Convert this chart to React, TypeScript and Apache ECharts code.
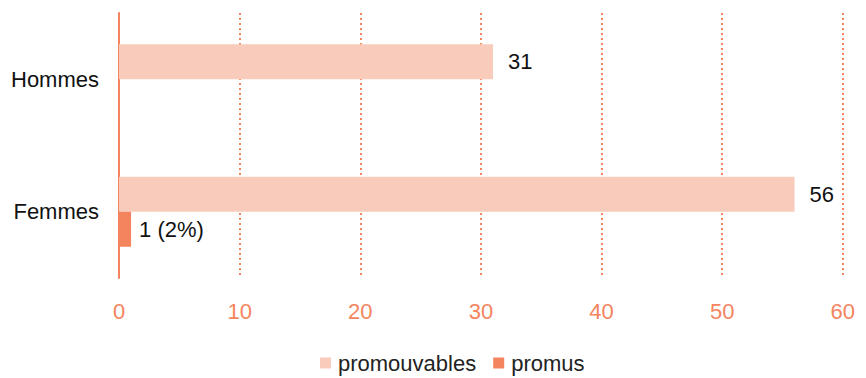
import React, { useEffect, useRef } from "react";
import * as echarts from "echarts";

const categories = ["Hommes", "Femmes"];
const promouvables = [31, 56];
const promus = [0, 1];
const promusLabels = ["", "1 (2%)"];
const xTicks = { min: 0, max: 60, interval: 10 };

export default function App() {
  const ref = useRef<HTMLDivElement>(null);
  useEffect(() => {
    if (!ref.current) return;
    const chart = echarts.init(ref.current, undefined, { renderer: "svg" });
    const font = "Liberation Sans, Arial, sans-serif";
    chart.setOption({
      animation: false,
      textStyle: { fontFamily: font },
      grid: { left: 110, right: 8, top: 5, bottom: 100, containLabel: false },
      legend: {
        top: 339,
        left: 307,
        itemWidth: 11,
        itemHeight: 11,
        itemGap: 17,
        icon: "rect",
        textStyle: { fontSize: 22, color: "#222", fontFamily: font, padding: [0, 0, 0, 2] },
        data: ["promouvables", "promus"],
      },
      xAxis: {
        type: "value",
        min: xTicks.min,
        max: xTicks.max,
        interval: xTicks.interval,
        axisLine: { show: false },
        axisTick: { show: false },
        axisLabel: { color: "#F4845E", fontSize: 22, margin: 22, fontFamily: font },
        splitLine: { show: true, lineStyle: { color: "#F4845E", type: [2, 3], width: 2 } },
      },
      yAxis: {
        type: "category",
        data: categories,
        inverse: true,
        axisLine: { show: true, lineStyle: { color: "#F4845E", width: 2 } },
        axisTick: { show: false },
        axisLabel: { color: "#111", fontSize: 22, margin: 20, fontFamily: font },
      },
      series: [
        {
          name: "promouvables",
          type: "bar",
          data: promouvables,
          barWidth: 35,
          barGap: "0%",
          itemStyle: { color: "#F9CBBA" },
          label: { show: true, position: "right", distance: 15, color: "#111", fontSize: 22, fontFamily: font },
        },
        {
          name: "promus",
          type: "bar",
          data: promus.map((v, i) => ({ value: v, label: { show: v > 0, formatter: promusLabels[i] } })),
          barWidth: 35,
          barGap: "0%",
          itemStyle: { color: "#F4845E" },
          label: { show: true, position: "right", distance: 8, color: "#111", fontSize: 22, fontFamily: font },
        },
      ],
    });
    return () => chart.dispose();
  }, []);
  return <div ref={ref} style={{ width: 850, height: 370 }} />;
}
